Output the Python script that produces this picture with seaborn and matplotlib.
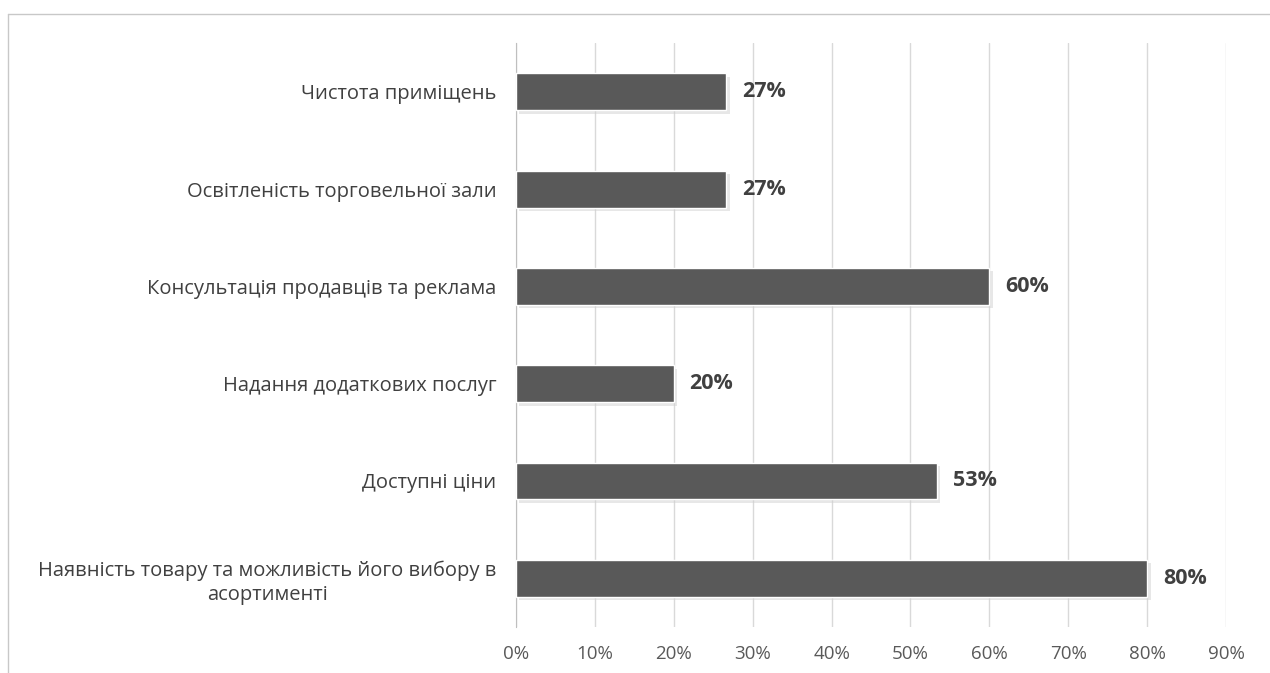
import seaborn as sns
import matplotlib.pyplot as plt
import matplotlib.patheffects as pe
from matplotlib.lines import Line2D
import pandas as pd
from matplotlib.ticker import PercentFormatter

# data (share of respondents)
categories = [
    "Чистота приміщень",
    "Освітленість торговельної зали",
    "Консультація продавців та реклама",
    "Надання додаткових послуг",
    "Доступні ціни",
    "Наявність товару та можливість його вибору в\nасортименті",
]
values = [26.67, 26.67, 60.0, 20.0, 53.33, 80.0]
value_labels = ["27%", "27%", "60%", "20%", "53%", "80%"]
ticks = [0, 10, 20, 30, 40, 50, 60, 70, 80, 90]

df = pd.DataFrame({"cat": categories, "val": values})

sns.set_style("white")
plt.rcParams["font.family"] = ["Open Sans", "DejaVu Sans"]

fig = plt.figure(figsize=(12.7, 6.73), dpi=100)
ax = fig.add_axes([0.4063, 0.0684, 0.5591, 0.8676])

# chart frame (cropped at the right and bottom edges)
fig.add_artist(Line2D([8 / 1270, 1.0], [1 - 14 / 673] * 2, color="#c8c8c8", lw=1))
fig.add_artist(Line2D([8 / 1270] * 2, [0.0, 1 - 14 / 673], color="#c8c8c8", lw=1))

sns.barplot(data=df, x="val", y="cat", color="#595959", width=0.38,
            saturation=1, ax=ax, zorder=3)

for bar in ax.patches:
    bar.set_path_effects([pe.SimplePatchShadow(offset=(2.5, -2.5), shadow_rgbFace="#d0d0d0", alpha=0.5),
                          pe.Normal()])

for bar, lab in zip(ax.patches, value_labels):
    ax.text(bar.get_width() + 2.0, bar.get_y() + bar.get_height() / 2, lab,
            va="center", ha="left", fontsize=15.5, fontweight="bold", color="#404040")

ax.set_xlim(0, 90)
ax.set_xticks(ticks)
ax.xaxis.set_major_formatter(PercentFormatter(decimals=0))
ax.grid(axis="x", color="#d9d9d9", linewidth=1, zorder=0)
ax.set_axisbelow(True)
for s in ["top", "right", "bottom"]:
    ax.spines[s].set_visible(False)
ax.spines["left"].set_color("#bfbfbf")
ax.tick_params(axis="both", length=0)
ax.tick_params(axis="y", pad=14, labelsize=14.5, labelcolor="#404040")
ax.tick_params(axis="x", pad=13, labelsize=13.5, labelcolor="#595959")
for t in ax.get_yticklabels():
    t.set_multialignment("center")
    t.set_linespacing(1.25)
ax.set_xlabel("")
ax.set_ylabel("")

plt.savefig("out.png", dpi=100)
plt.close()
